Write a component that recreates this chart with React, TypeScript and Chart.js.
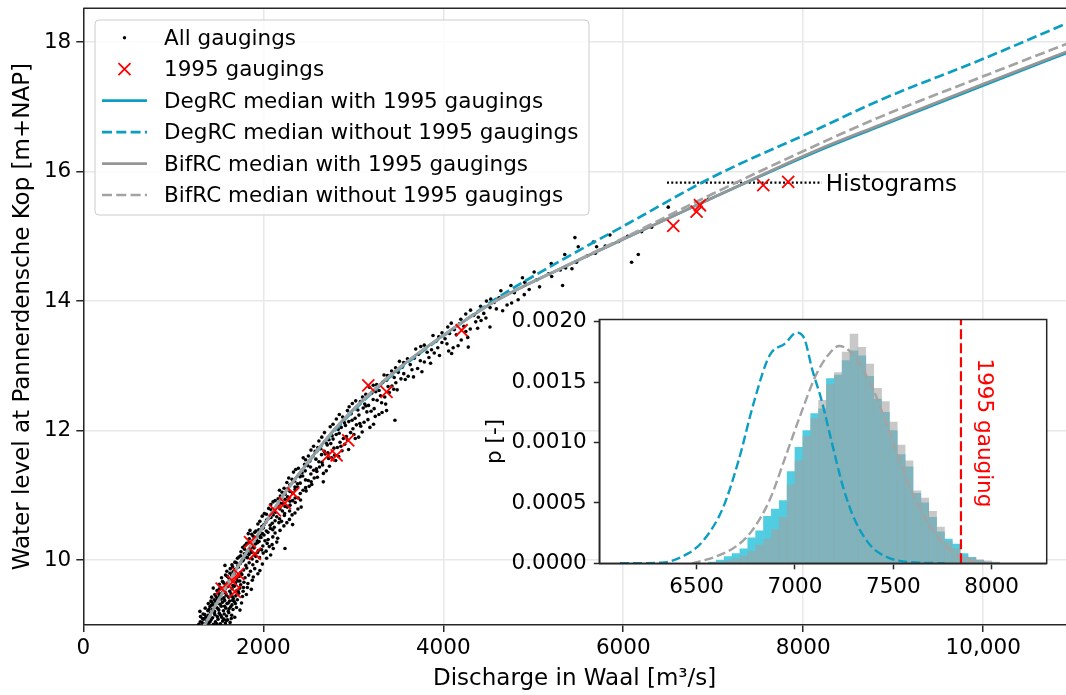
import { useEffect, useRef } from 'react';
import { Chart, registerables } from 'chart.js';

Chart.register(...registerables);

const FONT = 'DejaVu Sans';
const CYAN = '#0c9ec2';
const GRAY = '#969696';
const GRAY_DASH = '#a3a3a3';

// ---------------- main panel ----------------
const xTicks = [0, 2000, 4000, 6000, 8000, 10000];
const xTickLabels = ['0', '2000', '4000', '6000', '8000', '10,000'];
const yTicks = [10, 12, 14, 16, 18];
const yTickLabels = ['10', '12', '14', '16', '18'];
const xLimits = [0, 10920];
const yLimits = [9.0, 18.52];

// rating curves (discharge -> water level)
const curveQ = [1300, 1550, 1760, 1990, 2220, 2490, 2780, 3130, 3540, 4030, 4580, 5300, 6070, 7000, 8150, 8850, 10000, 11000];
const degWithH = [8.88, 9.5, 10.0, 10.5, 11.0, 11.5, 12.0, 12.5, 13.0, 13.5, 14.0, 14.5, 15.0, 15.6, 16.31, 16.70, 17.33, 17.87];
const degWithoutH = [8.88, 9.5, 10.0, 10.5, 11.0, 11.49, 11.98, 12.48, 12.98, 13.49, 14.03, 14.62, 15.21, 15.92, 16.65, 17.10, 17.74, 18.33];
const bifWithH = [8.88, 9.5, 10.0, 10.5, 11.0, 11.5, 12.0, 12.5, 13.0, 13.5, 14.0, 14.5, 15.0, 15.6, 16.33, 16.72, 17.35, 17.89];
const bifWithoutH = [8.88, 9.5, 10.0, 10.5, 11.0, 11.5, 12.0, 12.5, 13.0, 13.5, 14.0, 14.5, 15.02, 15.66, 16.41, 16.84, 17.47, 18.01];

// 1995 gaugings
const g1995Q = [1537, 1664, 1685, 1722, 1852, 1907, 2130, 2241, 2333, 2722, 2815, 2944, 3167, 3370, 4204, 6556, 6815, 6852, 7556, 7833];
const g1995H = [9.56, 9.67, 9.51, 9.79, 10.28, 10.10, 10.77, 10.88, 11.03, 11.62, 11.62, 11.85, 12.70, 12.60, 13.55, 15.16, 15.38, 15.48, 15.79, 15.84];

// all gaugings [discharge, water level]
const allGaugings: [number, number][] = [
  [1283, 9.01], [1318, 9.04], [1347, 9.02], [1372, 9.07], [1395, 9.03], [1421, 9.08], [1446, 9.01], [1468, 9.05], [1497, 9.09], [1523, 9.02], [1548, 9.06], [1579, 9.03], [1603, 9.08], [1631, 9.04], [1336, 9.09], [1409, 9.05], [1484, 9.02], [1562, 9.09],
  [1302, 9.13], [1331, 9.17], [1361, 9.12], [1388, 9.15], [1414, 9.19], [1437, 9.11], [1462, 9.16], [1489, 9.13], [1511, 9.18], [1538, 9.12], [1566, 9.17], [1592, 9.14], [1617, 9.19], [1649, 9.15], [1683, 9.12], [1376, 9.11], [1452, 9.19], [1528, 9.15],
  [1296, 9.21], [1355, 9.26], [1384, 9.22], [1407, 9.28], [1433, 9.24], [1459, 9.21], [1481, 9.27], [1506, 9.23], [1533, 9.29], [1557, 9.22], [1584, 9.26], [1611, 9.21], [1638, 9.28], [1664, 9.24], [1702, 9.27], [1741, 9.23], [1420, 9.30], [1497, 9.25], [1570, 9.29],
  [1389, 9.33], [1418, 9.37], [1446, 9.31], [1471, 9.36], [1494, 9.39], [1519, 9.32], [1546, 9.35], [1571, 9.38], [1597, 9.33], [1626, 9.37], [1652, 9.31], [1679, 9.36], [1712, 9.39], [1758, 9.34], [1455, 9.39], [1533, 9.40], [1610, 9.34],
  [1426, 9.43], [1462, 9.47], [1488, 9.41], [1515, 9.45], [1539, 9.49], [1563, 9.42], [1589, 9.46], [1616, 9.43], [1642, 9.48], [1668, 9.41], [1695, 9.45], [1727, 9.49], [1769, 9.44], [1812, 9.47], [1500, 9.49], [1577, 9.50], [1655, 9.44],
  [1444, 9.57], [1486, 9.53], [1522, 9.58], [1549, 9.51], [1574, 9.55], [1602, 9.59], [1627, 9.52], [1653, 9.56], [1679, 9.60], [1706, 9.53], [1739, 9.57], [1776, 9.52], [1823, 9.58], [1867, 9.55], [1591, 9.60],
  [1511, 9.63], [1547, 9.67], [1583, 9.62], [1609, 9.66], [1636, 9.69], [1662, 9.61], [1690, 9.65], [1718, 9.68], [1749, 9.62], [1785, 9.66], [1829, 9.64], [1878, 9.69],
  [1536, 9.73], [1581, 9.77], [1620, 9.72], [1648, 9.76], [1675, 9.79], [1703, 9.71], [1731, 9.75], [1762, 9.78], [1797, 9.73], [1838, 9.77], [1889, 9.74], [1940, 9.79],
  [1595, 9.83], [1633, 9.87], [1664, 9.82], [1692, 9.86], [1720, 9.89], [1749, 9.81], [1781, 9.85], [1816, 9.88], [1858, 9.83], [1905, 9.87], [1962, 9.84],
  [1574, 9.92], [1652, 9.93], [1685, 9.97], [1716, 9.91], [1744, 9.95], [1773, 9.99], [1806, 9.92], [1843, 9.96], [1884, 9.93], [1929, 9.98], [1990, 9.94],
  [1300, 9.05], [1325, 9.10], [1350, 9.16], [1395, 9.24], [1430, 9.35], [1475, 9.44], [1510, 9.55], [1560, 9.65], [1600, 9.75], [1630, 9.80], [1660, 9.90], [1700, 9.96], [1740, 9.68], [1780, 9.58], [1720, 9.52], [1690, 9.33], [1660, 9.38], [1645, 9.10], [1620, 9.25], [1590, 9.07],
  [1713, 10.03], [1748, 10.07], [1779, 10.01], [1808, 10.05], [1841, 10.09], [1876, 10.02], [1915, 10.06], [1958, 10.04], [2037, 10.03], [2082, 10.08],
  [1752, 10.13], [1792, 10.17], [1826, 10.11], [1861, 10.15], [1897, 10.19], [1936, 10.12], [1981, 10.16], [2031, 10.14], [2111, 10.18], [2241, 10.18],
  [1797, 10.23], [1838, 10.27], [1876, 10.21], [1913, 10.25], [1953, 10.29], [1995, 10.22], [2043, 10.26], [2098, 10.24], [2150, 10.28],
  [1844, 10.33], [1888, 10.37], [1927, 10.31], [1966, 10.35], [2008, 10.39], [2054, 10.32], [2106, 10.36], [2160, 10.34],
  [1833, 10.41], [1852, 10.46], [1905, 10.43], [1950, 10.47], [1991, 10.41], [2034, 10.45], [2079, 10.49], [2131, 10.42], [2186, 10.46],
  [1730, 10.05], [1790, 10.10], [1825, 10.04], [1868, 10.12], [1903, 10.08], [1945, 10.15], [1999, 10.11], [1772, 10.20], [1815, 10.26], [1858, 10.19], [1895, 10.31], [1935, 10.27], [1975, 10.35], [2019, 10.30], [2067, 10.21], [1872, 10.40], [1918, 10.45], [1962, 10.38], [2001, 10.50], [2052, 10.43], [2105, 10.47],
  [1940, 10.56], [1985, 10.52], [2031, 10.59], [2076, 10.54], [2122, 10.51], [2174, 10.58], [2229, 10.53], [2326, 10.55],
  [1988, 10.68], [2037, 10.62], [2085, 10.66], [2131, 10.61], [2180, 10.64], [2234, 10.69], [2291, 10.63],
  [2035, 10.71], [2087, 10.78], [2136, 10.74], [2185, 10.79], [2237, 10.72], [2292, 10.76], [2352, 10.73],
  [2083, 10.86], [2139, 10.81], [2190, 10.88], [2242, 10.83], [2297, 10.85], [2355, 10.89], [2421, 10.82],
  [2132, 10.92], [2190, 10.99], [2243, 10.94], [2297, 10.91], [2354, 10.96], [2414, 10.93],
  [1962, 10.60], [2008, 10.55], [2054, 10.64], [2100, 10.57], [2150, 10.67], [2203, 10.60], [2262, 10.58], [2012, 10.72], [2060, 10.80], [2110, 10.70], [2160, 10.84], [2212, 10.76], [2266, 10.82], [2320, 10.70], [2385, 10.79], [2108, 10.90], [2165, 10.95], [2218, 10.87], [2270, 10.98], [2326, 10.92], [2388, 10.96],
  [2180, 11.08], [2241, 11.02], [2297, 11.06], [2353, 11.09], [2411, 11.03], [2476, 11.07],
  [2231, 11.11], [2294, 11.16], [2352, 11.13], [2410, 11.19], [2470, 11.12], [2539, 11.17],
  [2283, 11.27], [2348, 11.22], [2409, 11.29], [2469, 11.24], [2532, 11.21], [2667, 11.21], [2601, 11.28],
  [2336, 11.36], [2403, 11.31], [2466, 11.38], [2529, 11.33], [2595, 11.37], [2668, 11.34],
  [2390, 11.42], [2460, 11.48], [2525, 11.44], [2590, 11.41], [2659, 11.47], [2735, 11.45],
  [2210, 11.05], [2268, 11.10], [2325, 11.04], [2382, 11.13], [2442, 11.08], [2510, 11.14], [2262, 11.20], [2320, 11.25], [2380, 11.18], [2438, 11.30], [2500, 11.23], [2566, 11.27], [2360, 11.40], [2430, 11.35], [2494, 11.46], [2560, 11.39], [2625, 11.44], [2700, 11.38],
  [2444, 11.58], [2517, 11.53], [2585, 11.56], [2653, 11.51], [2725, 11.57], [2804, 11.54],
  [2501, 11.61], [2577, 11.68], [2647, 11.63], [2718, 11.66], [2793, 11.62], [2875, 11.69],
  [2559, 11.76], [2638, 11.72], [2711, 11.78], [2785, 11.73], [2863, 11.76], [2948, 11.71],
  [2618, 11.84], [2700, 11.81], [2776, 11.87], [2853, 11.82], [2934, 11.86], [3022, 11.88],
  [2680, 11.97], [2765, 11.92], [2843, 11.96], [2923, 11.91], [3007, 11.94], [3099, 11.98],
  [2470, 11.55], [2550, 11.60], [2618, 11.52], [2688, 11.64], [2760, 11.58], [2838, 11.60], [2530, 11.70], [2607, 11.74], [2678, 11.68], [2750, 11.80], [2823, 11.74], [2905, 11.79], [2650, 11.90], [2730, 11.86], [2810, 11.94], [2890, 11.88], [2970, 11.97], [3060, 11.90],
  [2744, 12.06], [2832, 12.02], [2913, 12.08], [2996, 12.03], [3083, 12.07], [3185, 12.05],
  [2812, 12.18], [2903, 12.12], [2987, 12.16], [3073, 12.11], [3163, 12.17], [3463, 12.16],
  [2882, 12.21], [2976, 12.26], [3063, 12.24], [3151, 12.29], [3244, 12.22], [3320, 12.28],
  [2954, 12.37], [3051, 12.32], [3141, 12.38], [3232, 12.34], [3370, 12.31],
  [3027, 12.46], [3127, 12.41], [3221, 12.48], [3315, 12.43],
  [2775, 12.10], [2866, 12.05], [2950, 12.14], [3035, 12.09], [3120, 12.13], [3225, 12.10], [2845, 12.25], [2935, 12.31], [3020, 12.19], [3110, 12.35], [3198, 12.30], [3285, 12.25], [2990, 12.42], [3080, 12.45], [3170, 12.39], [3265, 12.47], [3360, 12.41],
  [3103, 12.52], [3206, 12.58], [3303, 12.54], [3400, 12.59],
  [3180, 12.67], [3287, 12.62], [3387, 12.68], [3488, 12.63],
  [3260, 12.71], [3370, 12.78], [3473, 12.74], [3578, 12.79],
  [3342, 12.86], [3455, 12.82], [3561, 12.88], [3669, 12.83],
  [3426, 12.92], [3543, 12.98], [3652, 12.94], [3763, 12.91],
  [3140, 12.56], [3250, 12.60], [3350, 12.52], [3450, 12.64], [3222, 12.70], [3330, 12.75], [3430, 12.69], [3530, 12.80], [3380, 12.85], [3500, 12.90], [3610, 12.84], [3715, 12.96], [3470, 12.97],
  [3513, 13.07], [3633, 13.02], [3745, 13.08], [3859, 13.04],
  [3602, 13.11], [3726, 13.18], [3841, 13.13], [3958, 13.16], [4093, 13.19],
  [3694, 13.26], [3821, 13.21], [3939, 13.28], [4060, 13.23], [4278, 13.29],
  [3789, 13.32], [3919, 13.38], [4041, 13.34], [4165, 13.31],
  [3886, 13.47], [4020, 13.42], [4145, 13.48], [4272, 13.44],
  [3560, 13.05], [3680, 13.12], [3790, 13.06], [3900, 13.20], [3750, 13.30], [3870, 13.25], [3985, 13.36], [4110, 13.28], [3950, 13.45], [4070, 13.50], [4200, 13.40],
  [3986, 13.51], [4123, 13.56], [4251, 13.53], [4382, 13.58],
  [4089, 13.66], [4229, 13.61], [4361, 13.68], [4519, 13.60],
  [4195, 13.72], [4338, 13.78], [4474, 13.74],
  [4303, 13.86], [4450, 13.81], [4590, 13.88],
  [4415, 13.92], [4565, 13.98], [4709, 13.94],
  [4050, 13.60], [4180, 13.65], [4300, 13.57], [4420, 13.70], [4250, 13.80], [4390, 13.75], [4520, 13.90], [4660, 13.85], [4480, 14.00], [4620, 14.05], [4760, 13.97], [4900, 14.10],
  [4528, 14.03], [4683, 14.09], [4832, 14.02], [4640, 14.16], [4790, 14.13], [4955, 14.18],
  [4752, 14.24], [4905, 14.29], [5070, 14.22], [5326, 14.24], [4880, 14.36], [5040, 14.33], [5205, 14.38],
  [5010, 14.45], [5170, 14.42], [5300, 14.48], [5360, 14.51], [5430, 14.50], [5200, 14.58], [5480, 14.60],
  [5350, 14.72], [5500, 14.84], [5600, 14.70], [5690, 14.74], [5704, 14.84], [5667, 14.91], [5800, 14.85], [5950, 14.92],
  [5463, 14.98], [6050, 15.00], [5852, 15.02], [6093, 14.60], [6167, 14.72], [6204, 15.07], [6315, 15.14], [6500, 15.45], [6944, 15.57],
];

// dotted "Histograms" marker line
const histLineQ = [6486, 8208];
const histLineH = [15.83, 15.83];
const histLabelQ = 8250;
const histLabelH = 15.83;
const histLabel = 'Histograms';

const legendLabels = [
  'All gaugings',
  '1995 gaugings',
  'DegRC median with 1995 gaugings',
  'DegRC median without 1995 gaugings',
  'BifRC median with 1995 gaugings',
  'BifRC median without 1995 gaugings',
];

// ---------------- inset panel ----------------
const insetXTicks = [6500, 7000, 7500, 8000];
const insetXTickLabels = ['6500', '7000', '7500', '8000'];
const insetYTicks = [0, 0.0005, 0.001, 0.0015, 0.002];
const insetYTickLabels = ['0.0000', '0.0005', '0.0010', '0.0015', '0.0020'];
const insetXLimits = [6005, 8280];
const insetYLimits = [0, 0.00202];

const binCenters = [6580, 6620, 6660, 6700, 6740, 6780, 6820, 6860, 6900, 6940, 6980, 7020, 7060, 7100, 7140, 7180, 7220, 7260, 7300, 7340, 7380, 7420, 7460, 7500, 7540, 7580, 7620, 7660, 7700, 7740, 7780, 7820, 7860, 7900, 7940, 7980, 8020];
const degHist = [0.1e-4, 0.27e-4, 0.55e-4, 0.8e-4, 1.2e-4, 2.1e-4, 2.7e-4, 3.9e-4, 4.5e-4, 5.2e-4, 7.6e-4, 9.6e-4, 11.0e-4, 12.4e-4, 12.8e-4, 15.3e-4, 15.6e-4, 16.8e-4, 17.6e-4, 17.2e-4, 15.5e-4, 13.6e-4, 12.5e-4, 11.0e-4, 9.0e-4, 8.0e-4, 5.8e-4, 5.0e-4, 3.8e-4, 2.6e-4, 2.0e-4, 1.6e-4, 0.8e-4, 0.5e-4, 0.25e-4, 0.1e-4, 0.05e-4];
const bifHist = [0.05e-4, 0.1e-4, 0.2e-4, 0.35e-4, 0.6e-4, 1.0e-4, 1.5e-4, 2.0e-4, 2.8e-4, 3.8e-4, 6.5e-4, 8.5e-4, 10.5e-4, 12.0e-4, 13.5e-4, 14.8e-4, 15.8e-4, 17.5e-4, 19.0e-4, 17.9e-4, 16.5e-4, 14.5e-4, 13.4e-4, 11.7e-4, 9.8e-4, 8.5e-4, 6.0e-4, 5.4e-4, 4.3e-4, 3.0e-4, 1.8e-4, 1.2e-4, 0.6e-4, 0.45e-4, 0.3e-4, 0.2e-4, 0.1e-4];

const degPdfQ = [6110, 6320, 6457, 6535, 6634, 6713, 6792, 6870, 6949, 7008, 7048, 7087, 7137, 7186, 7245, 7304, 7383, 7462, 7560, 7760];
const degPdf = [0, 0.05e-4, 0.82e-4, 1.9e-4, 4.6e-4, 8.5e-4, 13.4e-4, 17.2e-4, 18.2e-4, 19.1e-4, 18.6e-4, 16.1e-4, 13.4e-4, 10.1e-4, 6.3e-4, 3.6e-4, 1.5e-4, 0.55e-4, 0.14e-4, 0];
const bifPdfQ = [6476, 6550, 6634, 6700, 6772, 6870, 6949, 7028, 7107, 7166, 7225, 7284, 7344, 7403, 7462, 7521, 7600, 7679, 7757, 7836, 7915, 7990];
const bifPdf = [0, 0.3e-4, 0.8e-4, 1.4e-4, 2.5e-4, 5.2e-4, 8.7e-4, 12.3e-4, 15.6e-4, 17.2e-4, 18.0e-4, 17.5e-4, 16.1e-4, 14.2e-4, 11.7e-4, 9.0e-4, 5.7e-4, 3.3e-4, 1.6e-4, 0.55e-4, 0.14e-4, 0];

const gaugingQ = 7844;
const gaugingLabelQ = 7960;
const gaugingLabelP = 0.00108;
const gaugingLabel = '1995 gauging';

const pts = (xs: number[], ys: number[]) => xs.map((x, i) => ({ x, y: ys[i] }));

export default function App() {
  const mainRef = useRef<HTMLCanvasElement>(null);
  const insetRef = useRef<HTMLCanvasElement>(null);

  useEffect(() => {
    Chart.defaults.font.family = FONT;
    Chart.defaults.color = '#000';

    const dots = allGaugings.map(([q, h]) => ({ x: q, y: h }));

    const mainDecor = {
      id: 'mainDecor',
      afterDraw(chart: any) {
        const { ctx, chartArea } = chart;
        const xs = chart.scales.x;
        const ys = chart.scales.y;
        ctx.save();
        ctx.strokeStyle = '#262626';
        ctx.lineWidth = 1.5;
        ctx.beginPath();
        ctx.moveTo(chartArea.left, chartArea.top);
        ctx.lineTo(chartArea.right, chartArea.top);
        ctx.stroke();
        ctx.fillStyle = '#000';
        ctx.font = `23px "${FONT}"`;
        ctx.textAlign = 'left';
        ctx.textBaseline = 'middle';
        ctx.fillText(histLabel, xs.getPixelForValue(histLabelQ), ys.getPixelForValue(histLabelH) + 2);
        const lx = 95, ly = 20, lw = 494, lh = 195, r = 4;
        ctx.beginPath();
        ctx.moveTo(lx + r, ly);
        ctx.lineTo(lx + lw - r, ly);
        ctx.arcTo(lx + lw, ly, lx + lw, ly + r, r);
        ctx.lineTo(lx + lw, ly + lh - r);
        ctx.arcTo(lx + lw, ly + lh, lx + lw - r, ly + lh, r);
        ctx.lineTo(lx + r, ly + lh);
        ctx.arcTo(lx, ly + lh, lx, ly + lh - r, r);
        ctx.lineTo(lx, ly + r);
        ctx.arcTo(lx, ly, lx + r, ly, r);
        ctx.closePath();
        ctx.fillStyle = 'rgba(255,255,255,0.8)';
        ctx.fill();
        ctx.strokeStyle = '#cccccc';
        ctx.lineWidth = 1;
        ctx.stroke();
        ctx.font = `21.5px "${FONT}"`;
        ctx.textBaseline = 'alphabetic';
        legendLabels.forEach((label, i) => {
          const base = 45 + i * 31.46;
          const hy = base - 7.3;
          ctx.setLineDash([]);
          if (i === 0) {
            ctx.fillStyle = '#000';
            ctx.beginPath();
            ctx.arc(124.5, hy, 1.7, 0, Math.PI * 2);
            ctx.fill();
          } else if (i === 1) {
            ctx.strokeStyle = '#ff0000';
            ctx.lineWidth = 1.8;
            ctx.beginPath();
            ctx.moveTo(118.5, hy - 6); ctx.lineTo(130.5, hy + 6);
            ctx.moveTo(118.5, hy + 6); ctx.lineTo(130.5, hy - 6);
            ctx.stroke();
          } else {
            ctx.strokeStyle = i < 4 ? CYAN : (i === 4 ? GRAY : GRAY_DASH);
            ctx.lineWidth = 2.7;
            if (i === 3 || i === 5) ctx.setLineDash([10, 4.3]);
            ctx.beginPath();
            ctx.moveTo(102, hy); ctx.lineTo(147, hy);
            ctx.stroke();
            ctx.setLineDash([]);
          }
          ctx.fillStyle = '#000';
          ctx.fillText(label, 164, base);
        });
        ctx.restore();
      },
    };

    const lineDs = (label: string, ys: number[], color: string, dash: number[], order: number) => ({
      label,
      data: pts(curveQ, ys),
      showLine: true,
      borderColor: color,
      borderWidth: 2.7,
      borderDash: dash,
      pointRadius: 0,
      cubicInterpolationMode: 'monotone',
      order,
    });

    const main = new Chart(mainRef.current!, {
      type: 'scatter',
      data: {
        datasets: [
          {
            label: '1995 gaugings',
            data: pts(g1995Q, g1995H),
            pointStyle: 'crossRot',
            pointRadius: 8.5,
            borderColor: '#ff0000',
            backgroundColor: '#ff0000',
            borderWidth: 1.8,
            order: 0,
          },
          lineDs('BifRC median without 1995 gaugings', bifWithoutH, GRAY_DASH, [10, 4.3], 1),
          lineDs('BifRC median with 1995 gaugings', bifWithH, GRAY, [], 2),
          lineDs('DegRC median without 1995 gaugings', degWithoutH, CYAN, [10, 4.3], 3),
          lineDs('DegRC median with 1995 gaugings', degWithH, CYAN, [], 4),
          {
            label: 'Histograms',
            data: pts(histLineQ, histLineH),
            showLine: true,
            borderColor: '#000',
            borderWidth: 2.2,
            borderDash: [2, 2.3],
            pointRadius: 0,
            order: 5,
          },
          {
            label: 'All gaugings',
            data: dots,
            pointRadius: 1.8,
            backgroundColor: '#000',
            borderWidth: 0,
            order: 6,
          },
        ] as any,
      },
      options: {
        responsive: false,
        animation: false,
        devicePixelRatio: 1,
        events: [],
        layout: { autoPadding: false, padding: { top: 8.3, right: 0, left: 0, bottom: 0 } },
        plugins: { legend: { display: false }, tooltip: { enabled: false } },
        scales: {
          x: {
            type: 'linear',
            min: xLimits[0],
            max: xLimits[1],
            afterBuildTicks: (s: any) => { s.ticks = xTicks.map((v) => ({ value: v })); },
            afterFit: (s: any) => { s.height = 70; s.paddingLeft = 0; s.paddingRight = 0; },
            ticks: {
              callback: (v: any) => xTickLabels[xTicks.indexOf(v)] ?? '',
              autoSkip: false, maxRotation: 0, padding: 3.5, color: '#000',
              font: { size: 21.5, family: FONT },
            },
            grid: { color: '#e8e8e8', lineWidth: 1.5, tickLength: 7, tickColor: '#262626', tickWidth: 1.5 },
            border: { color: '#262626', width: 1.5 },
            title: { display: true, text: 'Discharge in Waal [m³/s]', color: '#000', font: { size: 23, family: FONT }, padding: { top: 0, bottom: 2 } },
          },
          y: {
            type: 'linear',
            min: yLimits[0],
            max: yLimits[1],
            afterBuildTicks: (s: any) => { s.ticks = yTicks.map((v) => ({ value: v })); },
            afterFit: (s: any) => { s.width = 83.3; s.paddingTop = 0; s.paddingBottom = 0; },
            ticks: {
              callback: (v: any) => yTickLabels[yTicks.indexOf(v)] ?? '',
              autoSkip: false, padding: 5, color: '#000',
              font: { size: 21.5, family: FONT },
            },
            grid: { color: '#e8e8e8', lineWidth: 1.5, tickLength: 7, tickColor: '#262626', tickWidth: 1.5 },
            border: { color: '#262626', width: 1.5 },
            title: { display: true, text: 'Water level at Pannerdensche Kop [m+NAP]', color: '#000', font: { size: 23, family: FONT }, padding: { top: 9, bottom: 0 } },
          },
        },
      } as any,
      plugins: [mainDecor],
    });

    const insetDecor = {
      id: 'insetDecor',
      beforeDraw(chart: any) {
        const { ctx, chartArea } = chart;
        ctx.save();
        ctx.fillStyle = '#ffffff';
        ctx.fillRect(chartArea.left, chartArea.top, chartArea.right - chartArea.left, chartArea.bottom - chartArea.top);
        ctx.restore();
      },
      afterDraw(chart: any) {
        const { ctx, chartArea } = chart;
        ctx.save();
        ctx.strokeStyle = '#262626';
        ctx.lineWidth = 1.5;
        ctx.strokeRect(chartArea.left, chartArea.top, chartArea.right - chartArea.left, chartArea.bottom - chartArea.top);
        const x = chart.scales.x.getPixelForValue(gaugingLabelQ);
        const y = chart.scales.y.getPixelForValue(gaugingLabelP);
        ctx.translate(x, y);
        ctx.rotate(Math.PI / 2);
        ctx.fillStyle = '#ff0000';
        ctx.font = `21.5px "${FONT}"`;
        ctx.textAlign = 'center';
        ctx.textBaseline = 'middle';
        ctx.fillText(gaugingLabel, 0, 0);
        ctx.restore();
      },
    };

    const inset = new Chart(insetRef.current!, {
      type: 'bar',
      data: {
        datasets: [
          {
            type: 'line',
            label: '1995 gauging',
            data: [{ x: gaugingQ, y: insetYLimits[0] }, { x: gaugingQ, y: insetYLimits[1] }],
            borderColor: '#ff0000',
            borderWidth: 2.2,
            borderDash: [10, 4],
            pointRadius: 0,
            order: 0,
          },
          {
            type: 'line',
            label: 'DegRC without',
            data: pts(degPdfQ, degPdf),
            borderColor: CYAN,
            borderWidth: 2.4,
            borderDash: [9, 4],
            pointRadius: 0,
            cubicInterpolationMode: 'monotone',
            order: 1,
          },
          {
            type: 'line',
            label: 'BifRC without',
            data: pts(bifPdfQ, bifPdf),
            borderColor: GRAY_DASH,
            borderWidth: 2.4,
            borderDash: [9, 4],
            pointRadius: 0,
            cubicInterpolationMode: 'monotone',
            order: 2,
          },
          {
            type: 'bar',
            label: 'BifRC with',
            data: pts(binCenters, bifHist),
            backgroundColor: 'rgba(162,162,162,0.59)',
            borderWidth: 0,
            grouped: false,
            barPercentage: 1,
            categoryPercentage: 1,
            order: 3,
          },
          {
            type: 'bar',
            label: 'DegRC with',
            data: pts(binCenters, degHist),
            backgroundColor: 'rgb(80,205,225)',
            borderWidth: 0,
            grouped: false,
            barPercentage: 1,
            categoryPercentage: 1,
            order: 4,
          },
        ] as any,
      },
      options: {
        responsive: false,
        animation: false,
        devicePixelRatio: 1,
        events: [],
        layout: { autoPadding: false, padding: { top: 19.5, right: 13.3, left: 0, bottom: 0 } },
        plugins: { legend: { display: false }, tooltip: { enabled: false } },
        scales: {
          x: {
            type: 'linear',
            min: insetXLimits[0],
            max: insetXLimits[1],
            offset: false,
            afterBuildTicks: (s: any) => { s.ticks = insetXTicks.map((v) => ({ value: v })); },
            afterFit: (s: any) => { s.height = 36.7; s.paddingLeft = 0; s.paddingRight = 0; },
            ticks: {
              callback: (v: any) => insetXTickLabels[insetXTicks.indexOf(v)] ?? '',
              autoSkip: false, maxRotation: 0, padding: 5, color: '#000',
              font: { size: 21.5, family: FONT },
            },
            grid: { display: true, drawOnChartArea: false, offset: false, tickLength: 6, tickColor: '#262626', tickWidth: 1.5 },
            border: { color: '#262626', width: 1.5 },
          },
          y: {
            type: 'linear',
            min: insetYLimits[0],
            max: insetYLimits[1],
            afterBuildTicks: (s: any) => { s.ticks = insetYTicks.map((v) => ({ value: v })); },
            afterFit: (s: any) => { s.width = 139.3; s.paddingTop = 0; s.paddingBottom = 0; },
            ticks: {
              callback: (v: any) => insetYTickLabels[insetYTicks.indexOf(v)] ?? '',
              autoSkip: false, padding: 7, color: '#000',
              font: { size: 21.5, family: FONT },
            },
            grid: { display: true, drawOnChartArea: false, tickLength: 5.5, tickColor: '#262626', tickWidth: 1.5 },
            border: { color: '#262626', width: 1.5 },
            title: { display: true, text: 'p [-]', color: '#000', font: { size: 21.5, family: FONT }, padding: { top: 23, bottom: 0 } },
          },
        },
      } as any,
      plugins: [insetDecor],
    });

    return () => {
      main.destroy();
      inset.destroy();
    };
  }, []);

  return (
    <div style={{ position: 'fixed', left: 0, top: 0, width: 1066, height: 695, overflow: 'hidden', background: '#fff' }}>
      <canvas ref={mainRef} width={1066} height={695} style={{ position: 'absolute', left: 0, top: 0, width: 1066, height: 695 }} />
      <canvas ref={insetRef} width={600} height={300} style={{ position: 'absolute', left: 460, top: 300, width: 600, height: 300 }} />
    </div>
  );
}
